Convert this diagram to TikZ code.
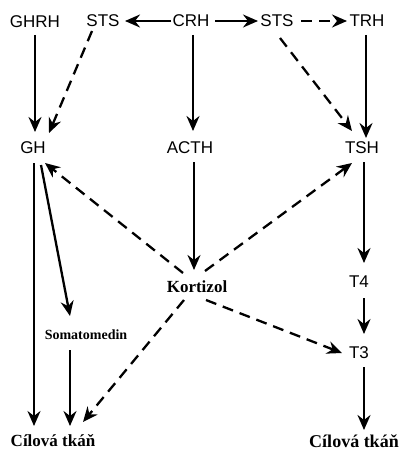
\documentclass[tikz,border=0pt]{standalone}
\usepackage{fontspec}
\setmainfont{Liberation Serif}
\setsansfont{Liberation Sans}
\usetikzlibrary{arrows.meta,calc}
\tikzset{
  arr/.style={line width=2.3pt,-{Stealth[length=15pt,width=13pt,inset=5pt]}},
  darr/.style={arr,dash pattern=on 11pt off 7pt},
  hl/.style={font=\sffamily\fontsize{17}{19}\selectfont,inner sep=0pt},
  bl/.style={font=\bfseries\fontsize{#1}{#1}\selectfont,inner sep=0pt},
}
\begin{document}
\begin{tikzpicture}[x=1pt,y=-1pt]
\useasboundingbox (0,0) rectangle (401,452);
\node[hl] (ghrh) at (35,22) {GHRH};
\node[hl] (sts1) at (103,21) {STS};
\node[hl] (crh) at (191,21) {CRH};
\node[hl] (sts2) at (277,21) {STS};
\node[hl] (trh) at (367,21) {TRH};
\node[hl] (gh) at (33,148) {GH};
\node[hl] (acth) at (190,148) {ACTH};
\node[hl] (tsh) at (362,148) {TSH};
\node[bl=17] (kort) at (197,287) {Kortizol};
\node[hl] (t4) at (359,282) {T4};
\node[bl=14] (soma) at (86,335) {Somatomedin};
\node[hl] (t3) at (359,353) {T3};
\node[bl=17] (ct1) at (53,441) {Cílová tkáň};
\node[bl=18] (ct2) at (354,441) {Cílová tkáň};

\draw[arr] ($(ghrh)+(0,13)$) -- ($(gh)+(2,-16)$);
\draw[darr] ($(sts1)+(-11,10)$) -- ($(gh)+(16,-15)$);
\draw[arr] ($(crh)+(-20,0)$) -- ($(sts1)+(22,0)$);
\draw[arr] ($(crh)+(24,0)$) -- ($(sts2)+(-19,0)$);
\draw[darr] ($(sts2)+(24,0)$) -- ($(trh)+(-20,0)$);
\draw[arr] ($(crh)+(2,14)$) -- ($(acth)+(3,-17)$);
\draw[darr] ($(sts2)+(3,17)$) -- ($(tsh)+(-10,-17)$);
\draw[arr] ($(trh)+(-1,14)$) -- ($(tsh)+(4,-10)$);
\draw[arr] ($(gh)+(1,15)$) -- ($(ct1)+(-19,-15)$);
\draw[arr] ($(gh)+(8,17)$) -- ($(soma)+(-16,-19)$);
\draw[arr] ($(soma)+(-16,15)$) -- ($(ct1)+(17,-15)$);
\draw[arr] ($(acth)+(4,14)$) -- ($(kort)+(-3,-17)$);
\draw[darr] ($(kort)+(-14,-14)$) -- ($(gh)+(12,15)$);
\draw[darr] ($(kort)+(8,-16)$) -- ($(tsh)+(-10,15)$);
\draw[darr] ($(kort)+(-13,13)$) -- ($(ct1)+(30,-19)$);
\draw[darr] ($(kort)+(9,13)$) -- ($(t3)+(-17,0)$);
\draw[arr] ($(tsh)+(2,14)$) -- ($(t4)+(5,-19)$);
\draw[arr] ($(t4)+(5,16)$) -- ($(t3)+(5,-19)$);
\draw[arr] ($(t3)+(5,14)$) -- ($(ct2)+(10,-11)$);
\end{tikzpicture}
\end{document}
